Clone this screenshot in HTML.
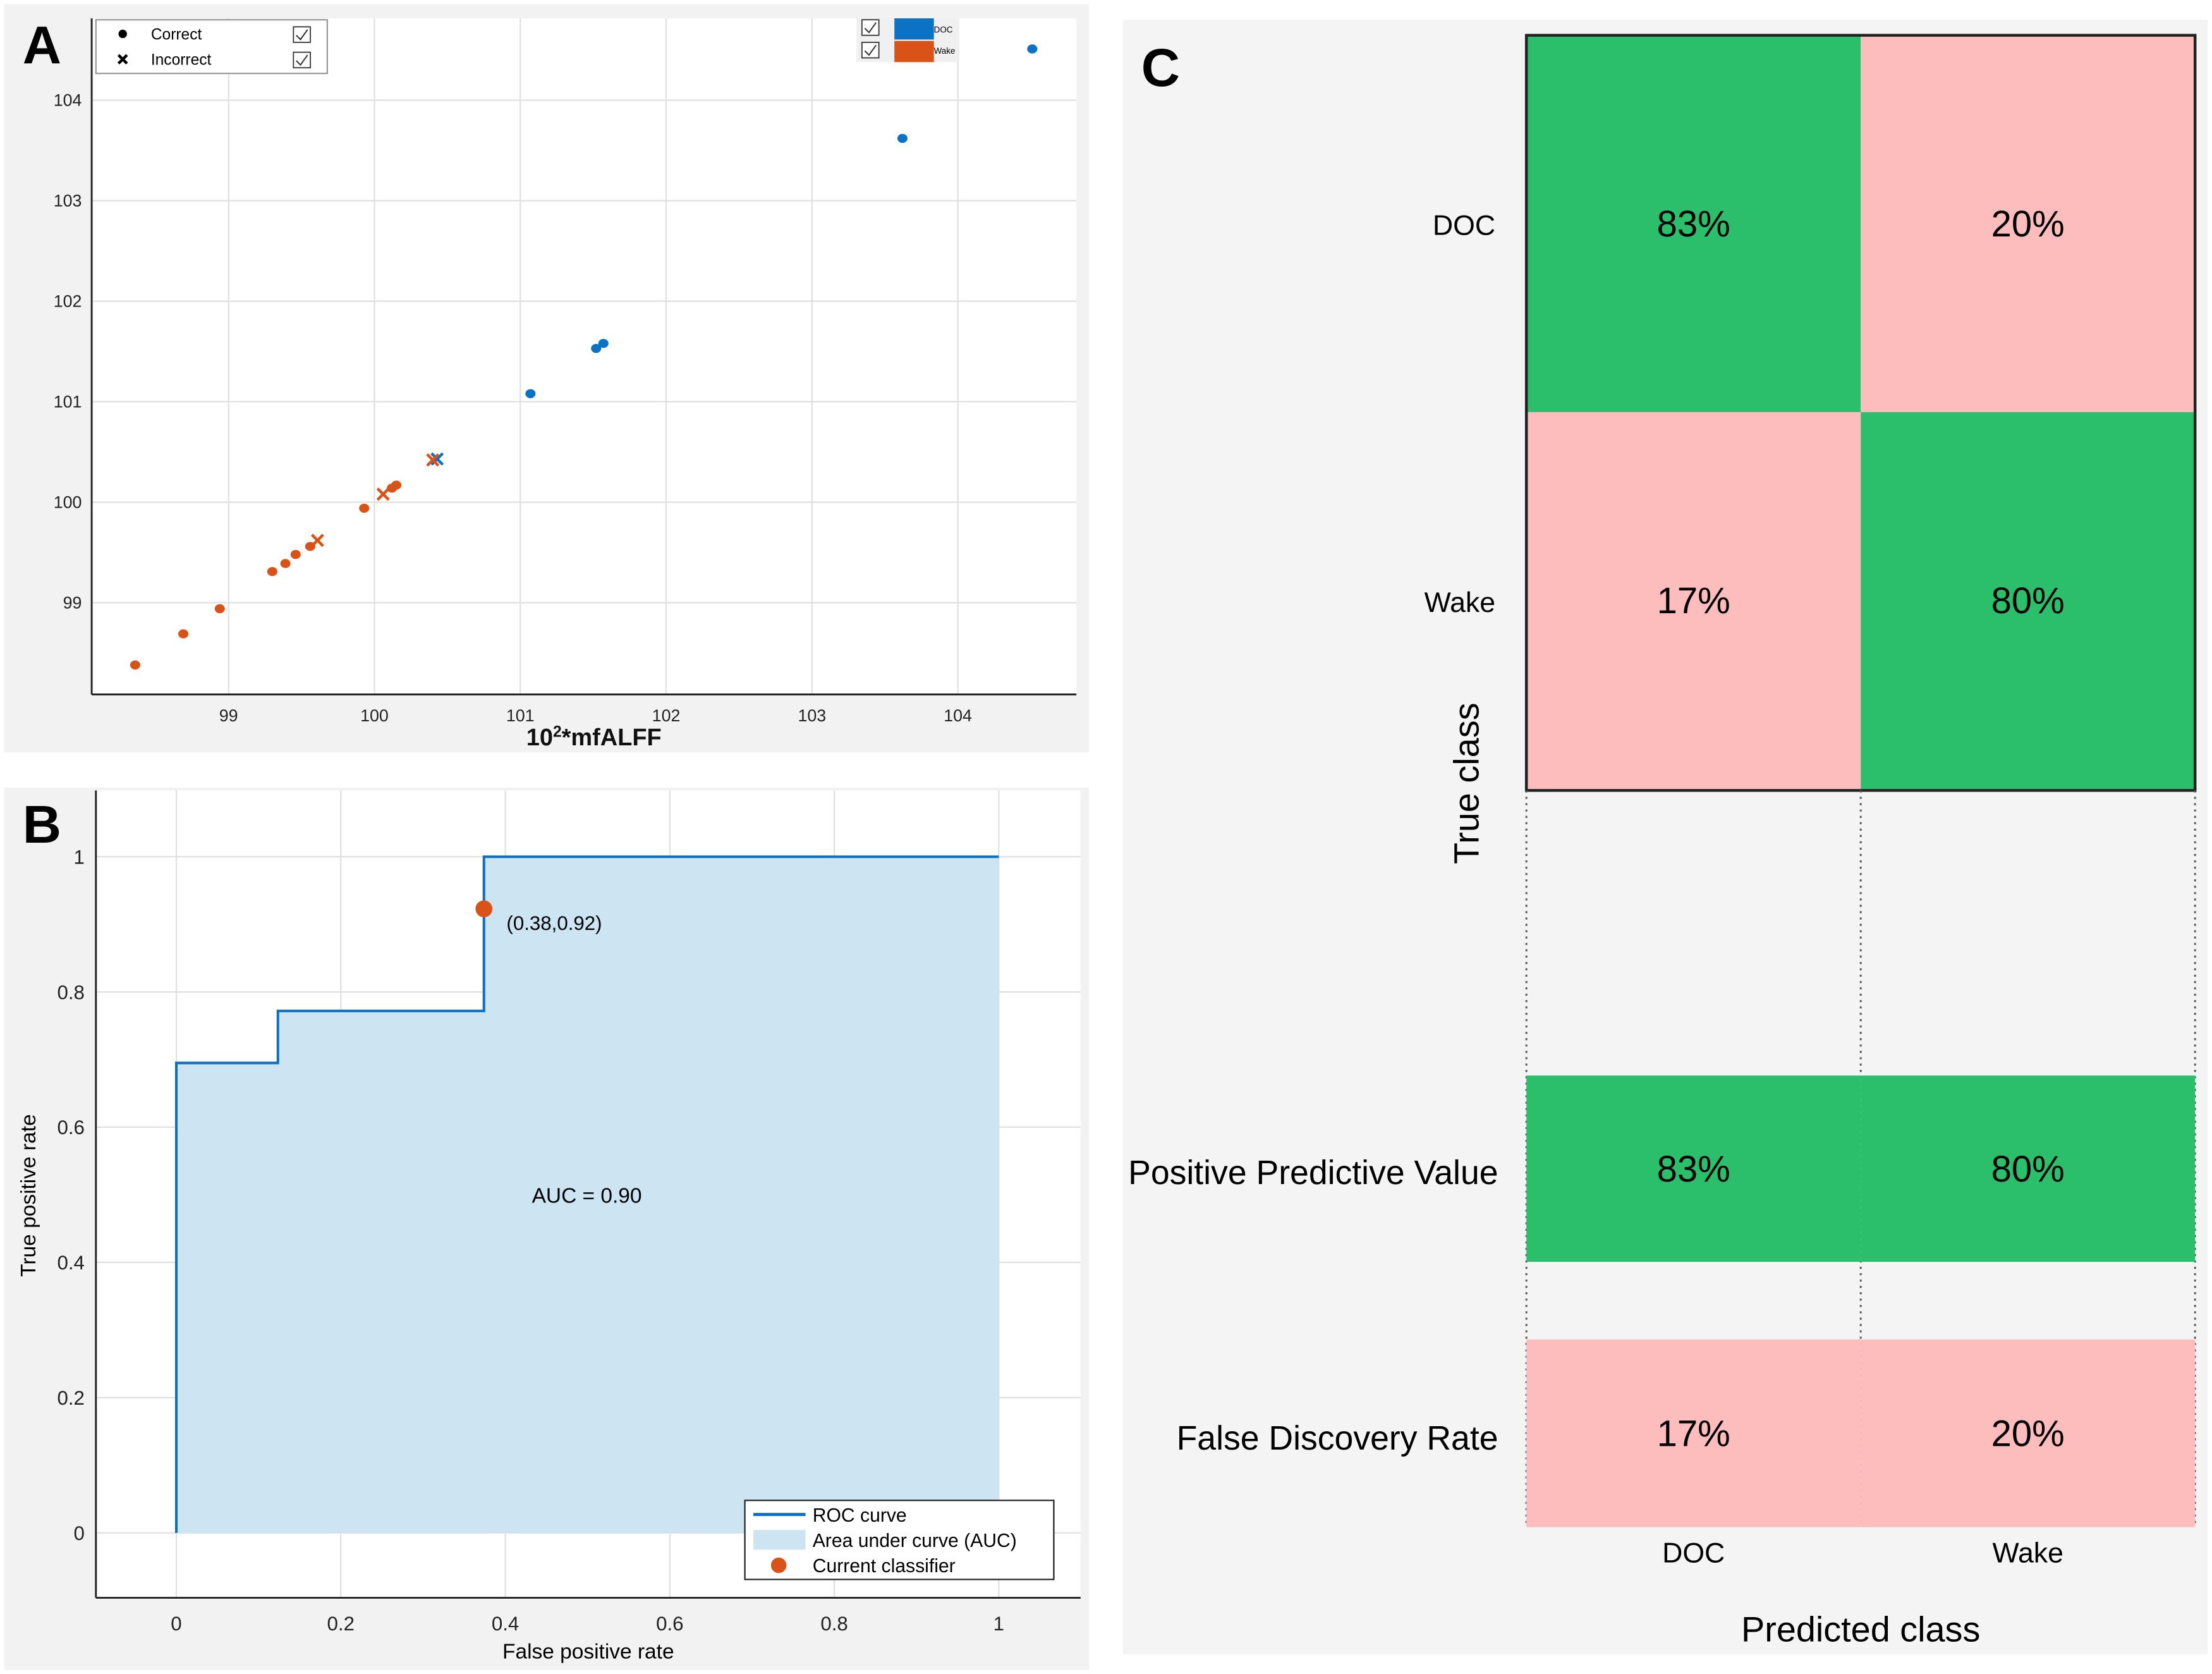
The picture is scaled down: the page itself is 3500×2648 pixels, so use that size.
<!DOCTYPE html>
<html><head><meta charset="utf-8"><style>
html,body{margin:0;padding:0;background:#fff;}
svg{display:block;font-family:"Liberation Sans",Arial,sans-serif;}
</style></head><body>
<svg id="fig" width="3500" height="2648" viewBox="0 0 1568 1186" preserveAspectRatio="none" xmlns="http://www.w3.org/2000/svg">
<rect x="0" y="0" width="1568" height="1186" fill="#fff"/>
<g id="pa"></g>
<g id="pb"></g>
<g id="pc"></g>
</svg>
<script>
// ---------- Panel A data ----------
const aXTicks = [99,100,101,102,103,104];
const aYTicks = [99,100,101,102,103,104];
const wakeCorrectX = [98.36,98.69,98.94,99.30,99.39,99.46,99.56,99.93,100.12,100.15];
const wakeCorrectY = [98.38,98.69,98.94,99.31,99.39,99.48,99.56,99.94,100.14,100.17];
const wakeWrongX = [99.61,100.06,100.40];
const wakeWrongY = [99.62,100.08,100.42];
const docWrongX = [100.43];
const docWrongY = [100.43];
const docCorrectX = [101.07,101.52,101.57,103.62,104.51];
const docCorrectY = [101.08,101.53,101.58,103.62,104.51];
// ---------- Panel B data ----------
const bTicks = [0,0.2,0.4,0.6,0.8,1];
const rocFpr = [0,0,0.1235,0.1235,0.374,0.374,1];
const rocTpr = [0,0.695,0.695,0.772,0.772,1,1];
const opFpr = [0.374];
const opTpr = [0.923];
const aucLabel = "AUC = 0.90";
// ---------- Panel C data ----------
const classes = ["DOC","Wake"];
const cmValues = [[83,20],[17,80]];
const ppvValues = [83,80];
const fdrValues = [17,20];

const NS="http://www.w3.org/2000/svg";
function mk(parent,tag,attrs,text){const e=document.createElementNS(NS,tag);for(const k in attrs)e.setAttribute(k,attrs[k]);if(text!==undefined)e.textContent=text;parent.appendChild(e);return e;}

// ===== Panel A =====
(function(){
const g=document.getElementById('pa');
const L=65,R=763,T=13,B=492;
const xs=v=>162+(v-99)*103.4;
const ys=v=>71-(v-104)*71.2;
let e=mk(g,'rect',{x:3,y:3,width:769,height:530,fill:'#f2f2f2'});


mk(g,'rect',{x:L,y:T,width:R-L,height:B-T,fill:'#fff'});
aXTicks.forEach(t=>{mk(g,'line',{x1:xs(t),x2:xs(t),y1:T,y2:B,stroke:'#e0e0e0','stroke-width':1});
 e=mk(g,'text',{x:xs(t),y:B+19,'font-size':12,'text-anchor':'middle',fill:'#222'},t);
 });
aYTicks.forEach(t=>{mk(g,'line',{x1:L,x2:R,y1:ys(t),y2:ys(t),stroke:'#e0e0e0','stroke-width':1});
 e=mk(g,'text',{x:L-7,y:ys(t)+4,'font-size':12,'text-anchor':'end',fill:'#222'},t);
 });
mk(g,'line',{x1:L,x2:L,y1:T,y2:B,stroke:'#222','stroke-width':1.3});
mk(g,'line',{x1:L,x2:R,y1:B,y2:B,stroke:'#222','stroke-width':1.3});
e=mk(g,'text',{x:421,y:528,'font-size':17,'font-weight':'bold','text-anchor':'middle',fill:'#111'});
e.innerHTML='10<tspan font-size="11" dy="-6">2</tspan><tspan dy="6">*mfALFF</tspan>';

function dots(X,Y,c,name){X.forEach((x,i)=>{const d=mk(g,'ellipse',{cx:xs(x),cy:ys(Y[i]),rx:3.6,ry:3.2,fill:c});
 });}
function crosses(X,Y,c,name){X.forEach((x,i)=>{const cx=xs(x),cy=ys(Y[i]),s=4;
 const p=mk(g,'path',{d:`M${cx-s},${cy-s}L${cx+s},${cy+s}M${cx-s},${cy+s}L${cx+s},${cy-s}`,stroke:c,'stroke-width':2});
 });}
crosses(docWrongX,docWrongY,'#0b72c4','doc-incorrect-point');
dots(wakeCorrectX,wakeCorrectY,'#d95319','wake-correct-point');
crosses(wakeWrongX,wakeWrongY,'#d95319','wake-incorrect-point');
dots(docCorrectX,docCorrectY,'#0b72c4','doc-correct-point');
// legend marker
e=mk(g,'g',{});
mk(e,'rect',{x:68,y:14,width:164,height:38,fill:'#fff',stroke:'#999'});
mk(e,'circle',{cx:87,cy:24,r:3,fill:'#000'});
mk(e,'text',{x:107,y:28,'font-size':11},'Correct');
mk(e,'path',{d:'M84,39L90,45M84,45L90,39',stroke:'#000','stroke-width':2});
mk(e,'text',{x:107,y:46,'font-size':11},'Incorrect');
[19,37].forEach(y=>{const cb=mk(e,'g',{});
 mk(cb,'rect',{x:208,y:y,width:12,height:11,fill:'#fff',stroke:'#333','stroke-width':0.8});
 mk(cb,'path',{d:`M210,${y+6}L213,${y+9}L218,${y+2}`,stroke:'#333',fill:'none','stroke-width':0.9});});
// class legend
e=mk(g,'g',{});
mk(e,'rect',{x:607,y:13,width:73,height:31,fill:'#f0f0f0'});
mk(e,'rect',{x:634,y:13,width:28,height:15,fill:'#0b72c4'});
mk(e,'rect',{x:634,y:29,width:28,height:15,fill:'#d95319'});
mk(e,'text',{x:662,y:23,'font-size':6},'DOC');
mk(e,'text',{x:662,y:38,'font-size':6},'Wake');
[14,30].forEach(y=>{const cb=mk(e,'g',{});
 mk(cb,'rect',{x:611,y:y,width:12,height:11,fill:'#fff',stroke:'#333','stroke-width':0.8});
 mk(cb,'path',{d:`M613,${y+6}L616,${y+9}L621,${y+2}`,stroke:'#333',fill:'none','stroke-width':0.9});});
e=mk(g,'text',{x:16,y:45,'font-size':38,'font-weight':'bold'},'A');

})();

// ===== Panel B =====
(function(){
const g=document.getElementById('pb');
const L=68,R=766,T=560,B=1132;
const xs=v=>125+v*583;
const ys=v=>1086-v*479;
let e=mk(g,'rect',{x:3,y:558,width:769,height:625,fill:'#f2f2f2'});

mk(g,'rect',{x:L,y:T,width:R-L,height:B-T,fill:'#fff'});
bTicks.forEach(t=>{mk(g,'line',{x1:xs(t),x2:xs(t),y1:T,y2:B,stroke:'#e0e0e0'});
 mk(g,'line',{x1:L,x2:R,y1:ys(t),y2:ys(t),stroke:'#e0e0e0'});
 e=mk(g,'text',{x:xs(t),y:B+23,'font-size':14,'text-anchor':'middle',fill:'#222'},t);
 
 e=mk(g,'text',{x:L-8,y:ys(t)+5,'font-size':14,'text-anchor':'end',fill:'#222'},t);
 });
let pts=rocFpr.map((x,i)=>xs(x)+','+ys(rocTpr[i]));
e=mk(g,'polygon',{points:pts.join(' ')+' '+xs(1)+','+ys(0),fill:'#cde4f3'});

e=mk(g,'polyline',{points:pts.join(' '),fill:'none',stroke:'#0b6fc2','stroke-width':1.8});

mk(g,'line',{x1:L,x2:L,y1:T,y2:B,stroke:'#222','stroke-width':1.3});
mk(g,'line',{x1:L,x2:R,y1:B,y2:B,stroke:'#222','stroke-width':1.3});
opFpr.forEach((x,i)=>{e=mk(g,'circle',{cx:xs(x),cy:ys(opTpr[i]),r:6,fill:'#d95319'});
 
 e=mk(g,'text',{x:xs(x)+16,y:ys(opTpr[i])+15,'font-size':14},'('+x.toFixed(2).replace(/0$/,'8').slice(0,4)+','+opTpr[i].toFixed(2)+')');
 e.textContent='(0.38,0.92)';
 });
e=mk(g,'text',{x:416,y:852,'font-size':15,'text-anchor':'middle'},aucLabel);

e=mk(g,'text',{x:417,y:1175,'font-size':15,'text-anchor':'middle'},'False positive rate');

e=mk(g,'text',{x:0,y:0,'font-size':15,'text-anchor':'middle',transform:'translate(25,847) rotate(-90)'},'True positive rate');

e=mk(g,'g',{});
mk(e,'rect',{x:528,y:1063,width:219,height:56,fill:'#fff',stroke:'#222'});
mk(e,'line',{x1:534,x2:571,y1:1073,y2:1073,stroke:'#0b6fc2','stroke-width':2.2});
mk(e,'rect',{x:534,y:1084,width:37,height:14,fill:'#cde4f3'});
mk(e,'circle',{cx:552,cy:1109,r:5.5,fill:'#d95319'});
mk(e,'text',{x:576,y:1078,'font-size':13.5},'ROC curve');
mk(e,'text',{x:576,y:1096,'font-size':13.5},'Area under curve (AUC)');
mk(e,'text',{x:576,y:1114,'font-size':13.5},'Current classifier');
e=mk(g,'text',{x:16,y:597,'font-size':38,'font-weight':'bold'},'B');

})();

// ===== Panel C =====
(function(){
const g=document.getElementById('pc');
const colX=[1082,1319], cw=237;
const rowY=[25,292], rh=267;
const green='#2bbf6c', pink='#fdbdbd';
let e=mk(g,'rect',{x:796,y:14,width:769,height:1158,fill:'#f4f4f4'});

cmValues.forEach((row,i)=>row.forEach((v,j)=>{
 const c=mk(g,'g',{});
 mk(c,'rect',{x:colX[j],y:rowY[i],width:cw,height:rh,fill:i===j?green:pink});
 mk(c,'text',{x:colX[j]+cw/2,y:rowY[i]+rh/2+9,'font-size':26,'text-anchor':'middle'},v+'%');}));
mk(g,'rect',{x:1082,y:25,width:474,height:535,fill:'none',stroke:'#222','stroke-width':2});
[1082,1319,1556].forEach(x=>mk(g,'line',{x1:x,x2:x,y1:560,y2:1082,stroke:'#555','stroke-width':1.3,'stroke-dasharray':'1.5,3'}));
function sumRow(vals,y,h,col,name,label,ly){vals.forEach((v,j)=>{
 const c=mk(g,'g',{});
 mk(c,'rect',{x:colX[j],y:y,width:cw,height:h,fill:col});
 mk(c,'text',{x:colX[j]+cw/2,y:y+h/2+9,'font-size':26,'text-anchor':'middle'},v+'%');});
 const t=mk(g,'text',{x:1062,y:ly,'font-size':24,'text-anchor':'end'},label);
 }
sumRow(ppvValues,762,132,green,'ppv-cell','Positive Predictive Value',839);
sumRow(fdrValues,949,133,pink,'fdr-cell','False Discovery Rate',1027);
classes.forEach((c,i)=>{
 e=mk(g,'text',{x:1060,y:rowY[i]+rh/2+8,'font-size':20,'text-anchor':'end'},c);
 
 e=mk(g,'text',{x:colX[i]+cw/2,y:1107,'font-size':20,'text-anchor':'middle'},c);
 });
e=mk(g,'text',{x:0,y:0,'font-size':25,'text-anchor':'middle',transform:'translate(1048,555) rotate(-90)'},'True class');

e=mk(g,'text',{x:1319,y:1163,'font-size':25,'text-anchor':'middle'},'Predicted class');

e=mk(g,'text',{x:809,y:61,'font-size':38,'font-weight':'bold'},'C');

})();
</script>
</body></html>
